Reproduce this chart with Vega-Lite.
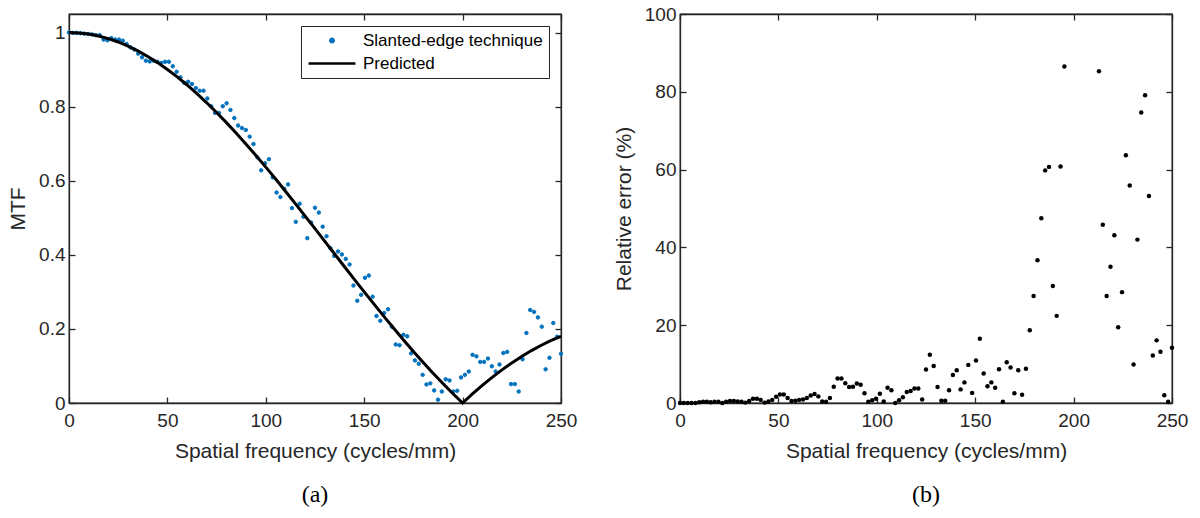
{
  "$schema": "https://vega.github.io/schema/vega-lite/v6.json",
  "padding": {"left": 6, "top": 4, "right": 5, "bottom": 2},
  "background": "white",
  "spacing": 34,
  "resolve": {"scale": {"color": "independent", "shape": "independent", "size": "independent"}, "legend": {"color": "independent", "shape": "independent", "size": "independent"}},
  "config": {
    "view": {"stroke": "#262626", "strokeWidth": 1.3},
    "axis": {
      "labelFont": "Liberation Sans", "labelFontSize": 19, "labelColor": "#262626",
      "titleFont": "Liberation Sans", "titleFontSize": 21, "titleFontWeight": "normal", "titleColor": "#262626",
      "domainColor": "#262626", "domainWidth": 1.3, "tickColor": "#262626", "tickWidth": 1.3,
      "tickSize": -6, "grid": false
    },
    "legend": {"symbolStrokeWidth": 2.5},
    "title": {"font": "Liberation Serif", "fontSize": 24, "fontWeight": "normal", "color": "black"}
  },
  "datasets": {
    "meas": [
      {"f":0,"m":1.000},{"f":1.953,"m":0.999},{"f":3.906,"m":0.999},{"f":5.859,"m":0.998},{"f":7.813,"m":0.997},
      {"f":9.766,"m":0.996},{"f":11.719,"m":0.995},{"f":13.672,"m":0.993},{"f":15.625,"m":0.993},{"f":17.578,"m":0.981},
      {"f":19.531,"m":0.979},{"f":21.484,"m":0.985},{"f":23.438,"m":0.981},{"f":25.391,"m":0.981},{"f":27.344,"m":0.978},
      {"f":29.297,"m":0.969},{"f":31.25,"m":0.960},{"f":33.203,"m":0.954},{"f":35.156,"m":0.943},{"f":37.109,"m":0.933},
      {"f":39.063,"m":0.924},{"f":41.016,"m":0.922},{"f":42.969,"m":0.924},{"f":44.922,"m":0.921},{"f":46.875,"m":0.918},
      {"f":48.828,"m":0.921},{"f":50.781,"m":0.921},{"f":52.734,"m":0.909},{"f":54.688,"m":0.894},{"f":56.641,"m":0.879},
      {"f":58.594,"m":0.864},{"f":60.547,"m":0.867},{"f":62.5,"m":0.861},{"f":64.453,"m":0.850},{"f":66.406,"m":0.843},
      {"f":68.359,"m":0.843},{"f":70.313,"m":0.822},{"f":72.266,"m":0.801},{"f":74.219,"m":0.783},{"f":76.172,"m":0.783},
      {"f":78.125,"m":0.801},{"f":80.078,"m":0.809},{"f":82.031,"m":0.791},{"f":83.984,"m":0.769},{"f":85.938,"m":0.749},
      {"f":87.891,"m":0.742},{"f":89.844,"m":0.737},{"f":91.797,"m":0.719},{"f":93.75,"m":0.699},{"f":95.703,"m":0.663},
      {"f":97.656,"m":0.628},{"f":99.609,"m":0.647},{"f":101.563,"m":0.658},{"f":103.516,"m":0.609},{"f":105.469,"m":0.568},
      {"f":107.422,"m":0.556},{"f":109.375,"m":0.578},{"f":111.328,"m":0.590},{"f":113.281,"m":0.526},{"f":115.234,"m":0.489},
      {"f":117.188,"m":0.538},{"f":119.141,"m":0.503},{"f":121.094,"m":0.445},{"f":123.047,"m":0.487},{"f":125,"m":0.527},
      {"f":126.953,"m":0.514},{"f":128.906,"m":0.476},{"f":130.859,"m":0.450},{"f":132.813,"m":0.418},{"f":134.766,"m":0.397},
      {"f":136.719,"m":0.409},{"f":138.672,"m":0.401},{"f":140.625,"m":0.389},{"f":142.578,"m":0.374},{"f":144.531,"m":0.317},
      {"f":146.484,"m":0.276},{"f":148.438,"m":0.292},{"f":150.391,"m":0.338},{"f":152.344,"m":0.344},{"f":154.297,"m":0.287},
      {"f":156.25,"m":0.235},{"f":158.203,"m":0.222},{"f":160.156,"m":0.243},{"f":162.109,"m":0.253},{"f":164.063,"m":0.206},
      {"f":166.016,"m":0.158},{"f":167.969,"m":0.156},{"f":169.922,"m":0.184},{"f":171.875,"m":0.180},{"f":173.828,"m":0.134},
      {"f":175.781,"m":0.115},{"f":177.734,"m":0.106},{"f":179.688,"m":0.076},{"f":181.641,"m":0.050},{"f":183.594,"m":0.053},
      {"f":185.547,"m":0.034},{"f":187.5,"m":0.009},{"f":189.453,"m":0.031},{"f":191.406,"m":0.064},{"f":193.359,"m":0.061},
      {"f":195.313,"m":0.031},{"f":197.266,"m":0.033},{"f":199.219,"m":0.069},{"f":201.172,"m":0.076},{"f":203.125,"m":0.085},
      {"f":205.078,"m":0.130},{"f":207.031,"m":0.126},{"f":208.984,"m":0.111},{"f":210.938,"m":0.111},{"f":212.891,"m":0.120},
      {"f":214.844,"m":0.099},{"f":216.797,"m":0.085},{"f":218.75,"m":0.104},{"f":220.703,"m":0.135},{"f":222.656,"m":0.138},
      {"f":224.609,"m":0.051},{"f":226.563,"m":0.051},{"f":228.516,"m":0.031},{"f":230.469,"m":0.118},{"f":232.422,"m":0.189},
      {"f":234.375,"m":0.251},{"f":236.328,"m":0.246},{"f":238.281,"m":0.231},{"f":240.234,"m":0.206},{"f":242.188,"m":0.091},
      {"f":244.141,"m":0.122},{"f":246.094,"m":0.216},{"f":248.047,"m":0.179},{"f":250,"m":0.133}
    ],
    "pred": [
      {"f":0,"p":1},{"f":5,"p":0.99897},{"f":10,"p":0.99589},{"f":15,"p":0.99077},{"f":20,"p":0.98363},
      {"f":25,"p":0.9745},{"f":30,"p":0.9634},{"f":35,"p":0.95038},{"f":40,"p":0.93549},{"f":45,"p":0.91878},
      {"f":50,"p":0.90032},{"f":55,"p":0.88016},{"f":60,"p":0.85839},{"f":65,"p":0.83508},{"f":70,"p":0.81033},
      {"f":75,"p":0.78421},{"f":80,"p":0.75683},{"f":85,"p":0.72827},{"f":90,"p":0.69865},{"f":95,"p":0.66806},
      {"f":100,"p":0.63662},{"f":105,"p":0.60443},{"f":110,"p":0.57162},{"f":115,"p":0.53829},{"f":120,"p":0.50455},
      {"f":125,"p":0.47053},{"f":130,"p":0.43633},{"f":135,"p":0.40208},{"f":140,"p":0.36788},{"f":145,"p":0.33386},
      {"f":150,"p":0.30011},{"f":155,"p":0.26674},{"f":160,"p":0.23387},{"f":165,"p":0.20159},{"f":170,"p":0.17001},
      {"f":175,"p":0.13921},{"f":180,"p":0.10929},{"f":185,"p":0.08033},{"f":190,"p":0.05242},{"f":195,"p":0.02561},
      {"f":200,"p":0},{"f":205,"p":0.02437},{"f":210,"p":0.04742},{"f":215,"p":0.06912},{"f":220,"p":0.08942},
      {"f":225,"p":0.10828},{"f":230,"p":0.12566},{"f":235,"p":0.14155},{"f":240,"p":0.15592},{"f":245,"p":0.16876},
      {"f":250,"p":0.18006}
    ],
    "err": [
      {"f":0,"e":0},{"f":1.953,"e":0},{"f":3.906,"e":0},{"f":5.859,"e":0},{"f":7.813,"e":0},
      {"f":9.766,"e":0.2},{"f":11.719,"e":0.3},{"f":13.672,"e":0.3},{"f":15.625,"e":0.2},{"f":17.578,"e":0.3},
      {"f":19.531,"e":0.3},{"f":21.484,"e":0},{"f":23.438,"e":0.3},{"f":25.391,"e":0.5},{"f":27.344,"e":0.5},
      {"f":29.297,"e":0.4},{"f":31.25,"e":0.3},{"f":33.203,"e":0.1},{"f":35.156,"e":0.5},{"f":37.109,"e":1.1},
      {"f":39.063,"e":1.1},{"f":41.016,"e":0.8},{"f":42.969,"e":0.1},{"f":44.922,"e":0.4},{"f":46.875,"e":0.8},
      {"f":48.828,"e":1.6},{"f":50.781,"e":2.2},{"f":52.734,"e":2.2},{"f":54.688,"e":1.3},{"f":56.641,"e":0.5},
      {"f":58.594,"e":0.6},{"f":60.547,"e":0.8},{"f":62.5,"e":0.9},{"f":64.453,"e":1.3},{"f":66.406,"e":1.9},
      {"f":68.359,"e":2.3},{"f":70.313,"e":1.7},{"f":72.266,"e":0.4},{"f":74.219,"e":0.3},{"f":76.172,"e":1.3},
      {"f":78.125,"e":4.2},{"f":80.078,"e":6.3},{"f":82.031,"e":6.3},{"f":83.984,"e":5.1},{"f":85.938,"e":4.1},
      {"f":87.891,"e":4.2},{"f":89.844,"e":5.0},{"f":91.797,"e":4.7},{"f":93.75,"e":2.5},{"f":95.703,"e":0.3},
      {"f":97.656,"e":0.7},{"f":99.609,"e":1.1},{"f":101.563,"e":2.4},{"f":103.516,"e":0.4},{"f":105.469,"e":3.9},
      {"f":107.422,"e":3.3},{"f":109.375,"e":0},{"f":111.328,"e":0.7},{"f":113.281,"e":1.5},{"f":115.234,"e":2.8},
      {"f":117.188,"e":3.1},{"f":119.141,"e":3.7},{"f":121.094,"e":3.7},{"f":123.047,"e":0.9},{"f":125,"e":8.6},
      {"f":126.953,"e":12.4},{"f":128.906,"e":9.5},{"f":130.859,"e":4.1},{"f":132.813,"e":0.6},{"f":134.766,"e":0.6},
      {"f":136.719,"e":3.3},{"f":138.672,"e":7.2},{"f":140.625,"e":8.4},{"f":142.578,"e":3.5},{"f":144.531,"e":5.3},
      {"f":146.484,"e":9.8},{"f":148.438,"e":2.6},{"f":150.391,"e":10.9},{"f":152.344,"e":16.5},{"f":154.297,"e":7.6},
      {"f":156.25,"e":4.3},{"f":158.203,"e":5.3},{"f":160.156,"e":3.9},{"f":162.109,"e":8.7},{"f":164.063,"e":0.3},
      {"f":166.016,"e":10.5},{"f":167.969,"e":9.1},{"f":169.922,"e":2.5},{"f":171.875,"e":8.4},{"f":173.828,"e":2.1},
      {"f":175.781,"e":8.8},{"f":177.734,"e":18.7},{"f":179.688,"e":27.5},{"f":181.641,"e":36.7},{"f":183.594,"e":47.5},
      {"f":185.547,"e":59.8},{"f":187.5,"e":60.7},{"f":189.453,"e":30.1},{"f":191.406,"e":22.4},{"f":193.359,"e":60.8},
      {"f":195.313,"e":86.5},
      {"f":212.891,"e":85.3},{"f":214.844,"e":45.8},{"f":216.797,"e":27.5},{"f":218.75,"e":35.0},{"f":220.703,"e":43.1},
      {"f":222.656,"e":19.5},{"f":224.609,"e":28.5},{"f":226.563,"e":63.7},{"f":228.516,"e":55.9},{"f":230.469,"e":9.9},
      {"f":232.422,"e":42.0},{"f":234.375,"e":74.7},{"f":236.328,"e":79.1},{"f":238.281,"e":53.2},{"f":240.234,"e":12.2},
      {"f":242.188,"e":16.1},{"f":244.141,"e":13.2},{"f":246.094,"e":2.0},{"f":248.047,"e":0.3},{"f":250,"e":14.2}
    ]
  },
  "hconcat": [
    {
      "width": 492, "height": 389,
      "title": {"text": "(a)", "orient": "bottom", "offset": 22},
      "resolve": {"axis": {"x": "independent", "y": "independent"}},
      "layer": [
        {
          "data": {"name": "meas"},
          "mark": {"type": "point", "filled": false, "fill": "#0072BD", "fillOpacity": 1, "opacity": 1, "strokeWidth": 1},
          "encoding": {
            "x": {"field": "f", "type": "quantitative", "scale": {"domain": [0, 250], "nice": false},
                  "axis": {"orient": "bottom", "values": [0, 50, 100, 150, 200, 250], "title": "Spatial frequency (cycles/mm)", "labelPadding": 14, "titlePadding": 10, "labelFlush": false}},
            "y": {"field": "m", "type": "quantitative", "scale": {"domain": [0, 1.05], "nice": false, "zero": false},
                  "axis": {"orient": "left", "values": [0, 0.2, 0.4, 0.6, 0.8, 1], "format": ".1~f", "title": "MTF", "labelPadding": 10, "titlePadding": 10, "labelFlush": false}},
            "color": {"datum": "Slanted-edge technique", "type": "nominal",
                      "scale": {"domain": ["Slanted-edge technique", "Predicted"], "range": ["#0072BD", "#000000"]},
                      "legend": {"title": null, "orient": "top-right", "offset": 12, "padding": 6, "rowPadding": 5, "clipHeight": 17,
                                 "labelFont": "Liberation Sans", "labelFontSize": 17, "labelColor": "#000000", "labelOffset": 6, "labelLimit": 400,
                                 "strokeColor": "#262626", "fillColor": "white", "symbolStrokeWidth": 2.5}},
            "shape": {"datum": "Slanted-edge technique", "type": "nominal",
                      "scale": {"domain": ["Slanted-edge technique", "Predicted"], "range": ["circle", "stroke"]},
                      "legend": {"title": null, "orient": "top-right", "offset": 12, "padding": 6, "rowPadding": 5, "clipHeight": 17,
                                 "labelFont": "Liberation Sans", "labelFontSize": 17, "labelColor": "#000000", "labelOffset": 6, "labelLimit": 400,
                                 "strokeColor": "#262626", "fillColor": "white", "symbolStrokeWidth": 2.5}},
            "size": {"datum": "Slanted-edge technique", "type": "nominal",
                      "scale": {"domain": ["Slanted-edge technique", "Predicted"], "range": [12, 2200]},
                      "legend": {"title": null, "orient": "top-right", "offset": 12, "padding": 6, "rowPadding": 5, "clipHeight": 17,
                                 "labelFont": "Liberation Sans", "labelFontSize": 17, "labelColor": "#000000", "labelOffset": 6, "labelLimit": 400,
                                 "strokeColor": "#262626", "fillColor": "white", "symbolStrokeWidth": 2.5}}
          }
        },
        {
          "data": {"name": "pred"},
          "mark": {"type": "line", "strokeWidth": 3},
          "encoding": {
            "x": {"field": "f", "type": "quantitative", "axis": {"orient": "top", "values": [0, 50, 100, 150, 200, 250], "labels": false, "title": null}},
            "y": {"field": "p", "type": "quantitative", "axis": {"orient": "right", "values": [0, 0.2, 0.4, 0.6, 0.8, 1], "labels": false, "title": null}},
            "color": {"datum": "Predicted", "type": "nominal"}
          }
        }
      ]
    },
    {
      "width": 492, "height": 389,
      "title": {"text": "(b)", "orient": "bottom", "offset": 22},
      "resolve": {"axis": {"x": "independent", "y": "independent"}},
      "layer": [
        {
          "data": {"name": "err"},
          "mark": {"type": "circle", "size": 20, "opacity": 1, "color": "#000000"},
          "encoding": {
            "x": {"field": "f", "type": "quantitative", "scale": {"domain": [0, 250], "nice": false},
                  "axis": {"orient": "bottom", "values": [0, 50, 100, 150, 200, 250], "title": "Spatial frequency (cycles/mm)", "labelPadding": 14, "titlePadding": 10, "labelFlush": false}},
            "y": {"field": "e", "type": "quantitative", "scale": {"domain": [0, 100], "nice": false},
                  "axis": {"orient": "left", "values": [0, 20, 40, 60, 80, 100], "title": "Relative error (%)", "labelPadding": 10, "titlePadding": 10, "labelFlush": false}}
          }
        },
        {
          "data": {"name": "err"},
          "mark": {"type": "circle", "size": 20, "opacity": 0},
          "encoding": {
            "x": {"field": "f", "type": "quantitative", "axis": {"orient": "top", "values": [0, 50, 100, 150, 200, 250], "labels": false, "title": null}},
            "y": {"field": "e", "type": "quantitative", "axis": {"orient": "right", "values": [0, 20, 40, 60, 80, 100], "labels": false, "title": null}}
          }
        }
      ]
    }
  ]
}
